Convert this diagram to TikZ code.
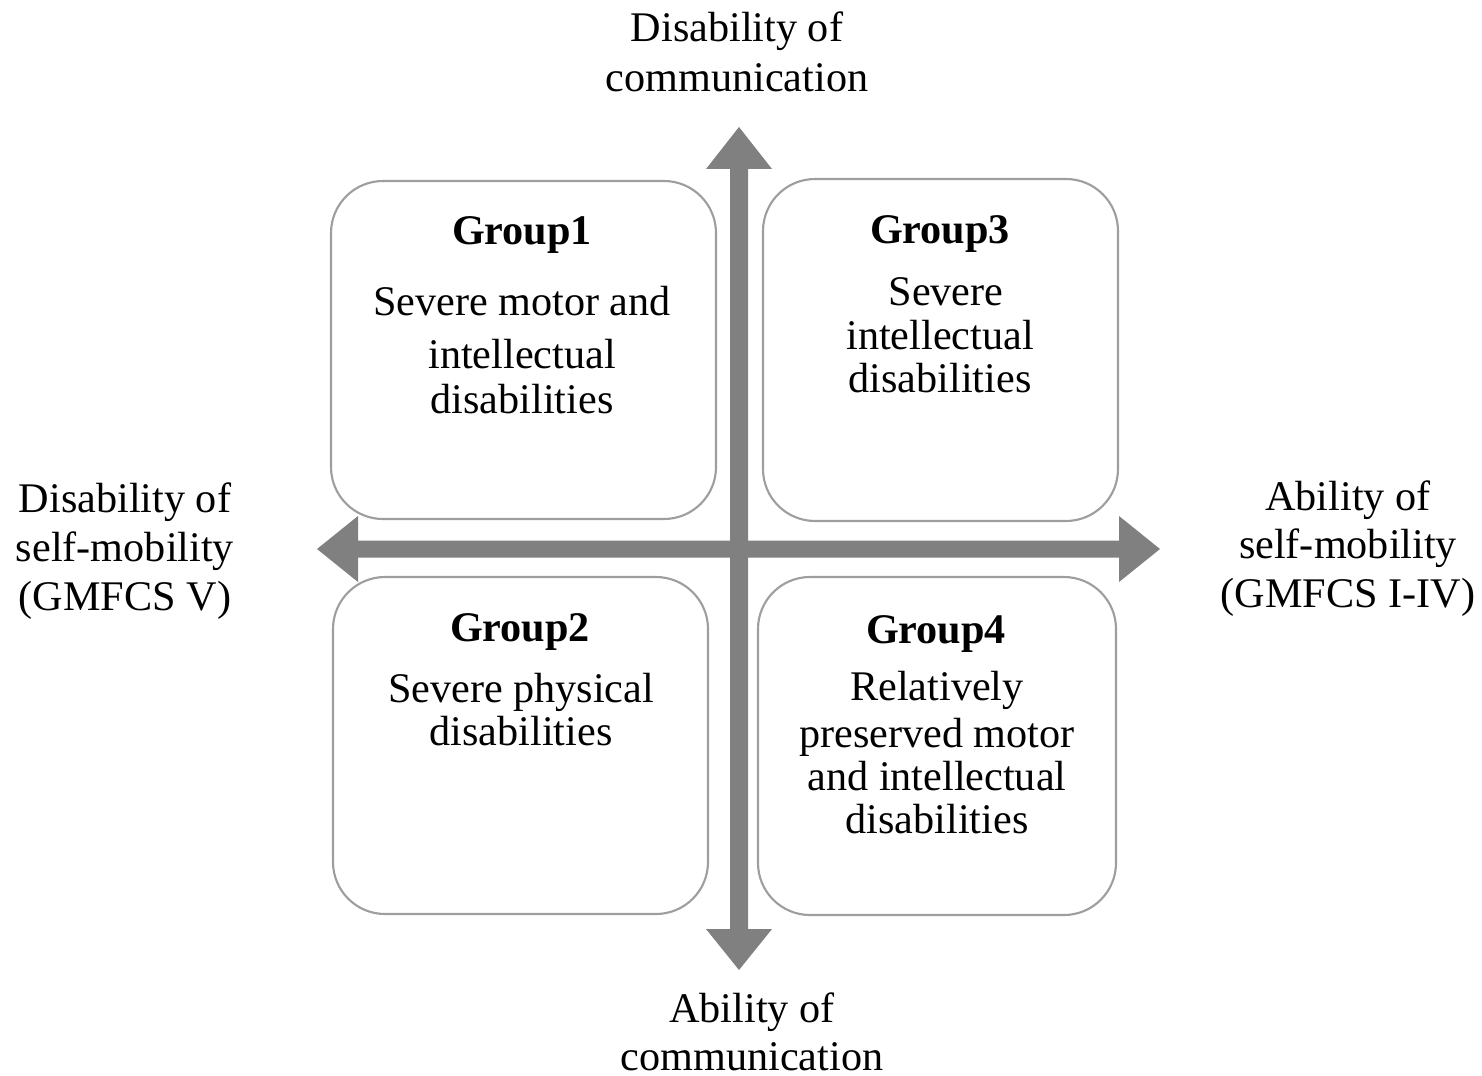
\documentclass[tikz,border=0pt]{standalone}
\usepackage{fontspec}
\setmainfont{Liberation Serif}
\begin{document}
\begin{tikzpicture}[x=0.01cm,y=-0.01cm,
  txt/.style={anchor=base,inner sep=0pt,font=\fontsize{12pt}{14pt}\selectfont},
  ttl/.style={txt,font=\fontsize{12pt}{14pt}\selectfont\bfseries},
  groupbox/.style={draw=black!38,line width=0.6pt,rounded corners=0.52cm},
  axisfill/.style={fill=black!50,draw=none}]
\useasboundingbox[fill=white] (0,0) rectangle (1482,1076);

% quadrant boxes
\draw[groupbox] (331,181) rectangle (716,519);
\draw[groupbox] (763,179) rectangle (1118,521);
\draw[groupbox] (333,577) rectangle (708,914);
\draw[groupbox] (758,577) rectangle (1116,915);

% vertical double arrow (communication axis)
\fill[axisfill] (739,127) -- (772,169) -- (748,169) -- (748,929) -- (772,929)
  -- (739,970) -- (706,929) -- (730,929) -- (730,169) -- (706,169) -- cycle;
% horizontal double arrow (self-mobility axis)
\fill[axisfill] (317,549) -- (358,516) -- (358,540.5) -- (1119,540.5) -- (1119,516)
  -- (1160,549) -- (1119,582) -- (1119,557.5) -- (358,557.5) -- (358,582) -- cycle;

% axis labels
\node[txt] (top1) at (737,42) {Disability of};
\node[txt] (top2) at (737,92) {communication};
\node[txt] (bot1) at (752,1022) {Ability of};
\node[txt] (bot2) at (752,1070) {communication};
\node[txt] (lft1) at (125,512) {Disability of};
\node[txt] (lft2) at (125,561) {self-mobility};
\node[txt] (lft3) at (125,610) {(GMFCS V)};
\node[txt] (rgt1) at (1348,510) {Ability of};
\node[txt] (rgt2) at (1348,558) {self-mobility};
\node[txt] (rgt3) at (1348,607) {(GMFCS I-IV)};

% Group 1
\node[ttl] (g1t) at (522,245) {Group1};
\node[txt] (g1a) at (522,315) {Severe motor and};
\node[txt] (g1b) at (522,368) {intellectual};
\node[txt] (g1c) at (522,413) {disabilities};

% Group 3
\node[ttl] (g3t) at (940,243) {Group3};
\node[txt] (g3a) at (946,305) {Severe};
\node[txt] (g3b) at (940,349) {intellectual};
\node[txt] (g3c) at (940,392) {disabilities};

% Group 2
\node[ttl] (g2t) at (520,641) {Group2};
\node[txt] (g2a) at (521,702) {Severe physical};
\node[txt] (g2b) at (521,745) {disabilities};

% Group 4
\node[ttl] (g4t) at (936,643) {Group4};
\node[txt] (g4a) at (937,700) {Relatively};
\node[txt] (g4b) at (937,747) {preserved motor};
\node[txt] (g4c) at (937,790) {and intellectual};
\node[txt] (g4d) at (937,833) {disabilities};
\end{tikzpicture}
\end{document}
